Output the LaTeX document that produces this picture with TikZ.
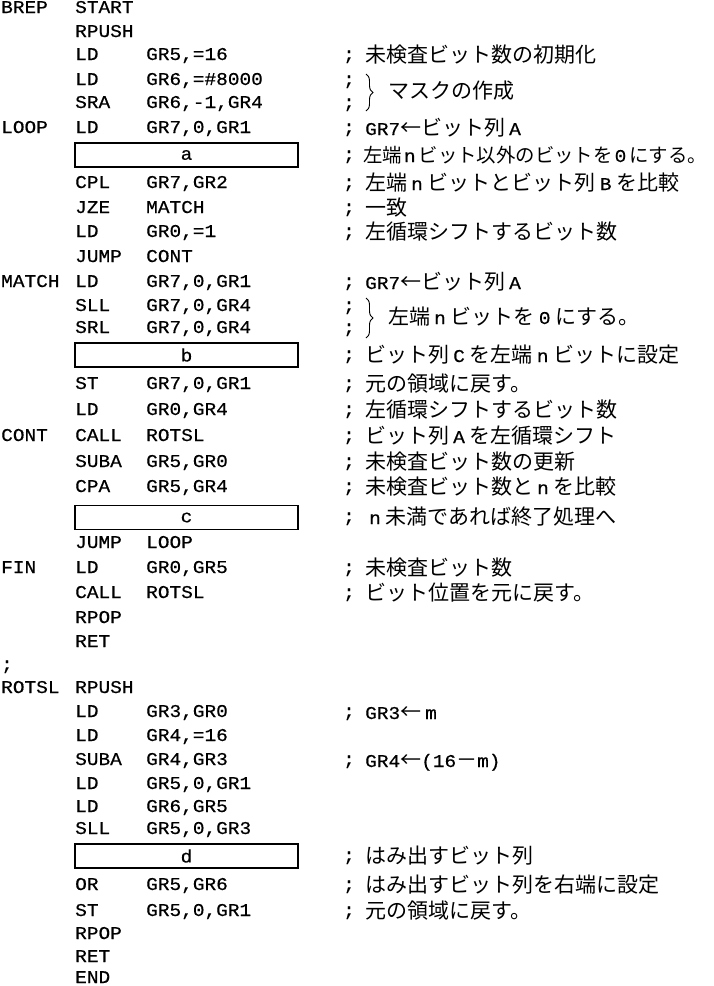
\documentclass[tikz,border=0pt]{standalone}
\usepackage{fontspec}
\usetikzlibrary{decorations.pathreplacing}
\newfontfamily\codef{Liberation Mono}[FakeStretch=1.08,FakeBold=0.5]
\newfontfamily\jpf{Noto Sans CJK JP}
\newcommand\cz{\codef\fontsize{18}{18}\selectfont}
\newcommand\sm[1]{\hspace{4pt}{\cz #1}\hspace{5pt}}
\newcommand\tn[1]{\hspace{2pt}{\cz #1}\hspace{3pt}}
\tikzset{
  code/.style={font=\cz, inner sep=0pt, anchor=base west},
  cmt/.style={font=\jpf\fontsize{21}{21}\selectfont, inner sep=0pt, anchor=base west},
  blank/.style={draw, line width=1.6pt, minimum width=223pt, minimum height=24pt, inner sep=0pt, font=\cz},
  brc/.style={decorate, decoration={brace, amplitude=7pt}, line width=0.9pt}
}
\newcommand\Lb[3]{\node[code] (#1) at (1,#2+5) {#3};}
\newcommand\Op[3]{\node[code] (#1) at (75,#2+5) {#3};}
\newcommand\Ar[3]{\node[code] (#1) at (146,#2+5) {#3};}
\newcommand\Sc[2]{\node[code] (#1) at (343,#2+5) {;};}
\newcommand\Cm[3]{\node[cmt] (#1) at (365,#2+7) {#3};}
\begin{document}
\begin{tikzpicture}[x=1pt,y=-1pt]
\useasboundingbox (0,0) rectangle (714,986);
% main program
\Lb{l1}{8}{BREP}\Op{o1}{8}{START}
\Op{o2}{32}{RPUSH}
\Op{o3}{55}{LD}\Ar{a3}{55}{GR5,=16}\Sc{s3}{55}\Cm{c3}{55}{未検査ビット数の初期化}
\Op{o4}{80}{LD}\Ar{a4}{80}{GR6,=\#8000}\Sc{s4}{80}
\Op{o5}{103}{SRA}\Ar{a5}{103}{GR6,-1,GR4}\Sc{s5}{103}
\draw[brc] (366,74) coordinate (br1t) -- (366,111) coordinate (br1b);
\node[cmt] (c45) at (388,91+7) {マスクの作成};
\Lb{l6}{128}{LOOP}\Op{o6}{128}{LD}\Ar{a6}{128}{GR7,0,GR1}\Sc{s6}{128}
\Cm{c6}{128}{{\cz GR7}←ビット列\sm{A}}
\node[blank] (ba) at (186.5,155) {a};
\Sc{s7}{155}\node[cmt, font=\jpf\fontsize{19.4}{19.4}\selectfont] (c7) at (363,155+7) {左端\tn{n}ビット以外のビットを\tn{0}にする。};
\Op{o8}{183}{CPL}\Ar{a8}{183}{GR7,GR2}\Sc{s8}{183}\Cm{c8}{183}{左端\sm{n}ビットとビット列\sm{B}を比較}
\Op{o9}{208}{JZE}\Ar{a9}{208}{MATCH}\Sc{s9}{208}\Cm{c9}{208}{一致}
\Op{o10}{232}{LD}\Ar{a10}{232}{GR0,=1}\Sc{s10}{232}\Cm{c10}{232}{左循環シフトするビット数}
\Op{o11}{257}{JUMP}\Ar{a11}{257}{CONT}
\Lb{l12}{282}{MATCH}\Op{o12}{282}{LD}\Ar{a12}{282}{GR7,0,GR1}\Sc{s12}{282}
\Cm{c12}{282}{{\cz GR7}←ビット列\sm{A}}
\Op{o13}{306}{SLL}\Ar{a13}{306}{GR7,0,GR4}\Sc{s13}{306}
\Op{o14}{328}{SRL}\Ar{a14}{328}{GR7,0,GR4}\Sc{s14}{328}
\draw[brc] (366,298) coordinate (br2t) -- (366,338) coordinate (br2b);
\node[cmt] (c1314) at (388,317+7) {左端\sm{n}ビットを\sm{0}にする。};
\node[blank] (bb) at (186.5,355) {b};
\Sc{s15}{355}\Cm{c15}{355}{ビット列\sm{C}を左端\sm{n}ビットに設定}
\Op{o16}{384}{ST}\Ar{a16}{384}{GR7,0,GR1}\Sc{s16}{384}\Cm{c16}{384}{元の領域に戻す。}
\Op{o17}{410}{LD}\Ar{a17}{410}{GR0,GR4}\Sc{s17}{410}\Cm{c17}{410}{左循環シフトするビット数}
\Lb{l18}{436}{CONT}\Op{o18}{436}{CALL}\Ar{a18}{436}{ROTSL}\Sc{s18}{436}\Cm{c18}{436}{ビット列\sm{A}を左循環シフト}
\Op{o19}{462}{SUBA}\Ar{a19}{462}{GR5,GR0}\Sc{s19}{462}\Cm{c19}{462}{未検査ビット数の更新}
\Op{o20}{487}{CPA}\Ar{a20}{487}{GR5,GR4}\Sc{s20}{487}\Cm{c20}{487}{未検査ビット数と\sm{n}を比較}
\node[blank] (bc) at (186.5,517.5) {c};
\Sc{s21}{517}\Cm{c21}{517}{\sm{n}未満であれば終了処理へ}
\Op{o22}{543}{JUMP}\Ar{a22}{543}{LOOP}
\Lb{l23}{568}{FIN}\Op{o23}{568}{LD}\Ar{a23}{568}{GR0,GR5}\Sc{s23}{568}\Cm{c23}{568}{未検査ビット数}
\Op{o24}{593}{CALL}\Ar{a24}{593}{ROTSL}\Sc{s24}{593}\Cm{c24}{593}{ビット位置を元に戻す。}
\Op{o25}{618}{RPOP}
\Op{o26}{642}{RET}
\Lb{l27}{665}{;}
% subroutine
\Lb{l28}{688}{ROTSL}\Op{o28}{688}{RPUSH}
\Op{o29}{712}{LD}\Ar{a29}{712}{GR3,GR0}\Sc{s29}{712}\Cm{c29}{712}{{\cz GR3}←\sm{m}}
\Op{o30}{736}{LD}\Ar{a30}{736}{GR4,=16}
\Op{o31}{760}{SUBA}\Ar{a31}{760}{GR4,GR3}\Sc{s31}{760}\Cm{c31}{760}{{\cz GR4}←{\cz (16}－{\cz m)}}
\Op{o32}{784}{LD}\Ar{a32}{784}{GR5,0,GR1}
\Op{o33}{807}{LD}\Ar{a33}{807}{GR6,GR5}
\Op{o34}{829}{SLL}\Ar{a34}{829}{GR5,0,GR3}
\node[blank] (bd) at (186.5,856) {d};
\Sc{s35}{856}\Cm{c35}{856}{はみ出すビット列}
\Op{o36}{885}{OR}\Ar{a36}{885}{GR5,GR6}\Sc{s36}{885}\Cm{c36}{885}{はみ出すビット列を右端に設定}
\Op{o37}{911}{ST}\Ar{a37}{911}{GR5,0,GR1}\Sc{s37}{911}\Cm{c37}{911}{元の領域に戻す。}
\Op{o38}{934}{RPOP}
\Op{o39}{957}{RET}
\Op{o40}{978}{END}
\end{tikzpicture}
\end{document}
